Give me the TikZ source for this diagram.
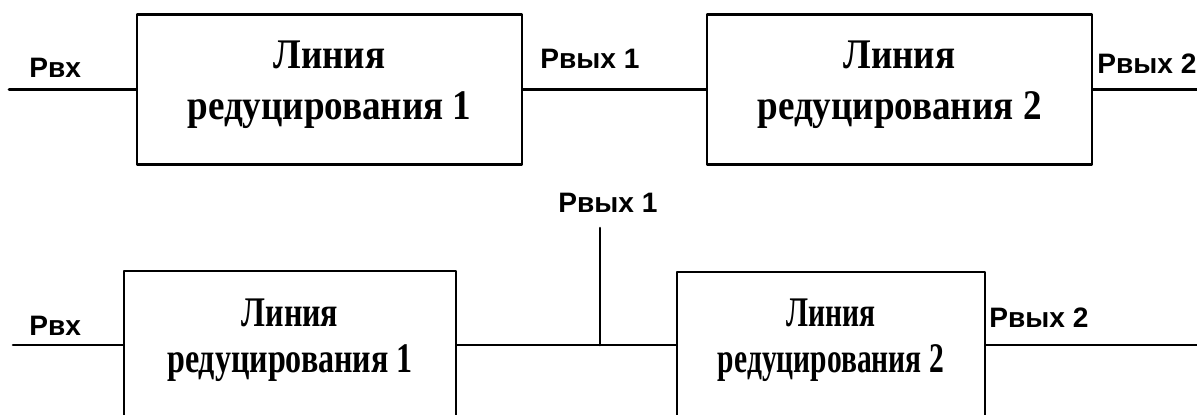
\documentclass[tikz,border=0pt]{standalone}
\usepackage{fontspec}
\setmainfont{Liberation Serif}
\newfontfamily\sigfont{Liberation Sans}
\newfontfamily\linefont[FakeStretch=0.88]{Liberation Serif}
\newfontfamily\linefontb[FakeStretch=0.76]{Liberation Serif}
\newfontfamily\linefontc[FakeStretch=0.70]{Liberation Serif}
\begin{document}
\begin{tikzpicture}[x=0.02cm, y=-0.02cm, line width=1.5pt, line join=round, line cap=round,
	block/.style={draw, inner sep=0pt, align=center, text depth=10.3pt, font=\linefont\bfseries\fontsize{24}{29}\selectfont},
	sig/.style={anchor=base west, inner sep=0pt, font=\sigfont\bfseries\fontsize{16}{18}\selectfont}]
	\useasboundingbox (0,0) rectangle (1197,414);
	\clip (0,0) rectangle (1197,414);
	% series connection
	\node[block, minimum width=7.7cm, minimum height=3cm] (lr1) at (329.5,89.5) {Линия\\редуцирования 1};
	\node[block, minimum width=7.7cm, minimum height=3cm] (lr2) at (899.5,89.5) {Линия\\редуцирования 2};
	\coordinate (in1) at (9,89.5);
	\coordinate (out1) at (1197,89.5);
	\draw (in1)--(lr1) (lr1)--(lr2) (lr2)--(out1);
	\node[sig] (pin1) at (28,77) {Рвх};
	\node[sig] (pout11) at (539,68) {Рвых 1};
	\node[sig] (pout12) at (1096,73) {Рвых 2};
	% branch connection
	\node[block, font=\linefontb\bfseries\fontsize{24}{26}\selectfont, minimum width=6.64cm, minimum height=2.96cm] (lr3) at (290,345) {Линия\\редуцирования 1};
	\node[block, font=\linefontc\bfseries\fontsize{24}{26}\selectfont, minimum width=6.16cm, minimum height=2.92cm] (lr4) at (831,345) {Линия\\редуцирования 2};
	\coordinate (in2) at (13,345);
	\coordinate (out2) at (1197,345);
	\coordinate (j) at (600,345);
	\coordinate (jt) at (600,228);
	\draw (in2)--(lr3) (lr3)--(lr4) (lr4)--(out2) (j)--(jt);
	\node[sig] (pin2) at (28,335) {Рвх};
	\node[sig] (pout21) at (557,212) {Рвых 1};
	\node[sig] (pout22) at (988,327) {Рвых 2};
\end{tikzpicture}
\end{document}
